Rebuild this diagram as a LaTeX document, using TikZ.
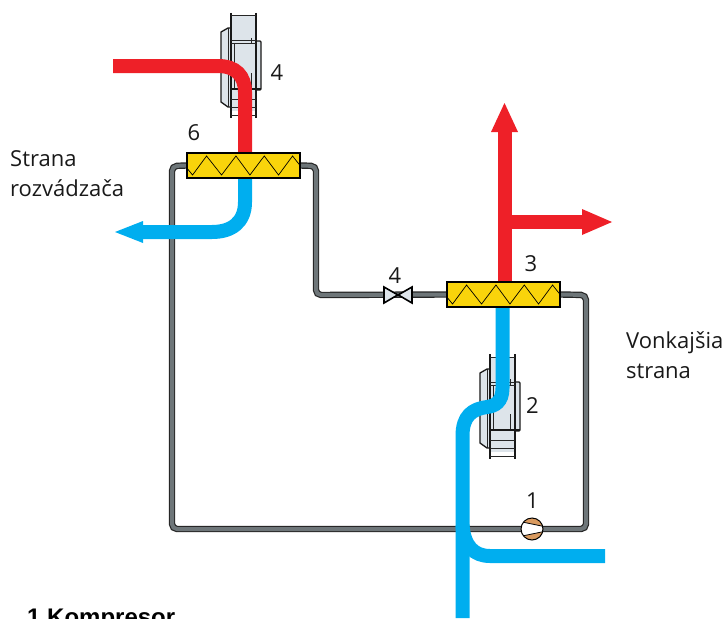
\documentclass[tikz,border=0pt]{standalone}
\usepackage{fontspec}
\setmainfont{Open Sans}
\newfontfamily\helv{Liberation Sans}
\usetikzlibrary{arrows.meta,calc}
\definecolor{hred}{HTML}{EE2028}
\definecolor{hblue}{HTML}{00AEEF}
\definecolor{hyel}{HTML}{F9D40B}
\definecolor{hgrey}{HTML}{6E7679}
\definecolor{hfan}{HTML}{DDE4EA}
\definecolor{hbrown}{HTML}{D99A5F}
\tikzset{
  hxbox/.style={draw=black,line width=1.5pt,fill=hyel,minimum width=113pt,minimum height=25pt,inner sep=0pt},
  pipeo/.style={line width=6.4pt,draw=black!85,rounded corners=5pt},
  pipei/.style={line width=4pt,draw=hgrey,rounded corners=5pt},
  redpipe/.style={line width=14pt,draw=hred},
  bluepipe/.style={line width=14pt,draw=hblue},
  lbl/.style={font=\fontsize{22}{26}\selectfont,inner sep=0pt,text=black!90},
  fanline/.style={line width=1.6pt,draw=black!90},
  fanthin/.style={line width=1pt,draw=black!85},
  zig/.style={line width=.7pt,draw=black},
  fanbody/.style={fill=hfan,draw=black!90,line width=1.3pt}
}
\newcommand{\fanshape}{%
  \fill[hfan] (0,3) rectangle (25,98);
  \draw[fanbody] (0,15) -- (-3,15) -- (-10,19) -- (-10,89) -- (-3,94) -- (0,94);
  \draw[fanthin] (-3,15) -- (-3,94);
  \draw[fanbody,rounded corners=1pt] (25,28) -- (30,28) -- (30,77) -- (25,77);
  \draw[fanline] (0,0) -- (0,105);
  \draw[fanline] (25,0) -- (25,105);
  \draw[fanthin] (0,3) -- (25,3);
  \draw[fanthin] (0,28) -- (25,28);
  \draw[fanthin] (0,31) -- (25,31);
  \draw[fanthin] (20,25) -- (20,31);
  \draw[fanthin] (3,31) -- (3,76);
  \draw[fanthin] (20,60) -- (20,76);
  \draw[fanline] (0,76) -- (30,76);
  \draw[fanthin] (0,86) -- (25,86);
  \draw[fanthin] (0,94) -- (25,94);
  \draw[fanthin] (0,102) -- (25,102);
}
\newcommand{\zigzag}[1]{%
  \draw[zig] ($(#1.west)+(1,3)$) -- ++(5.3,6.5) -- ++(14,-19) -- ++(15,19) -- ++(14.4,-19) -- ++(14,19) -- ++(14.3,-19) -- ++(14.3,19) -- ++(14,-19) -- ++(6.7,8.5);
}
\begin{document}
\begin{tikzpicture}[x=1pt,y=-1pt]
\useasboundingbox (0,0) rectangle (727,618);
\clip (0,0) rectangle (727,618);

% heat exchangers and junction points
\node[hxbox] (hxa) at (243.5,165.5) {};
\node[hxbox] (hxb) at (503.5,294.5) {};
\node[minimum size=0pt,inner sep=0pt] (valve) at (398,295) {};
\node[minimum size=0pt,inner sep=0pt] (comp) at (532,529) {};
\coordinate (c1) at (172,166);
\coordinate (c2) at (172,529);
\coordinate (c3) at (586,529);
\coordinate (c4) at (586,295);
\coordinate (c5) at (316,166);
\coordinate (c6) at (316,295);

% refrigerant pipes
\foreach \s in {pipeo,pipei}{
  \draw[\s] (hxa.west) -- (c1) -- (c2) -- (c3) -- (c4) -- (hxb.east);
  \draw[\s] (hxa.east) -- (c5) -- (c6) -- (hxb.west);
}

% fans
\begin{scope}[shift={(231,13)}]\fanshape\end{scope}
\begin{scope}[shift={(490,354)}]\fanshape\end{scope}

% air flows, distribution side
\coordinate (rs) at (113,66);
\draw[redpipe] (rs) -- (218,66) .. controls (236,66) and (245,76) .. (245,92) -- (245,153);
\coordinate (bt) at (115,232);
\draw[bluepipe] (245,178) -- (245,202) .. controls (245,222) and (232,232) .. (212,232) -- (142,232);
\fill[hblue] (bt) -- (143,221) -- (143,243) -- cycle;

% air flows, outdoor side
\coordinate (ru) at (504.5,103);
\coordinate (rr) at (612,222);
\draw[redpipe] (504.5,282) -- (504.5,131);
\fill[hred] (ru) -- (518,132) -- (491,132) -- cycle;
\draw[redpipe] (504.5,222) -- (584,222);
\fill[hred] (rr) -- (582,209) -- (582,235) -- cycle;
\draw[bluepipe] (502.5,307) -- (502.5,388) .. controls (502.5,402) and (495,406) .. (487,407) .. controls (472,409) and (462.5,416) .. (462.5,436) -- (462.5,618);
\draw[bluepipe] (462.5,525) .. controls (464,546) and (474,556) .. (490,556) -- (605,556);

% exchangers on top of pipes
\node[hxbox] at (hxa) {};
\node[hxbox] at (hxb) {};
\zigzag{hxa}
\zigzag{hxb}

% valve
\draw[line width=1.6pt,draw=black,fill=hfan] (valve) -- (384,287) -- (384,303) -- cycle;
\draw[line width=1.6pt,draw=black,fill=hfan] (valve) -- (412,287) -- (412,303) -- cycle;

% compressor
\fill[hbrown] (comp) circle (11);
\begin{scope}
\clip (comp) circle (10.6);
\fill[white] (515,520.5) -- (544,526.5) -- (544,531.5) -- (515,537.5) -- cycle;
\draw[line width=.8pt] (515,520.5) -- (544,526.5) (515,537.5) -- (544,531.5);
\end{scope}
\draw[line width=1pt,draw=black] (comp) circle (11);

% labels
\node[lbl,anchor=base] (l1) at (532.5,508) {1};
\node[lbl,anchor=base] (l2) at (532.5,413) {2};
\node[lbl,anchor=base] (l3) at (531,271) {3};
\node[lbl,anchor=base] (l4a) at (395,283) {4};
\node[lbl,anchor=base] (l4b) at (277,80) {4};
\node[lbl,anchor=base] (l6) at (194,140) {6};
\node[lbl,anchor=base west] (s1) at (10,166) {Strana};
\node[lbl,anchor=base west] (s2) at (10,196) {rozvádzača};
\node[lbl,anchor=base west] (v1) at (626,348) {Vonkajšia};
\node[lbl,anchor=base west] (v2) at (626,378) {strana};
\node[anchor=base west,inner sep=0pt,font=\helv\bfseries\fontsize{24}{28}\selectfont] (t1) at (27,625) {1 Kompresor};
\end{tikzpicture}
\end{document}
